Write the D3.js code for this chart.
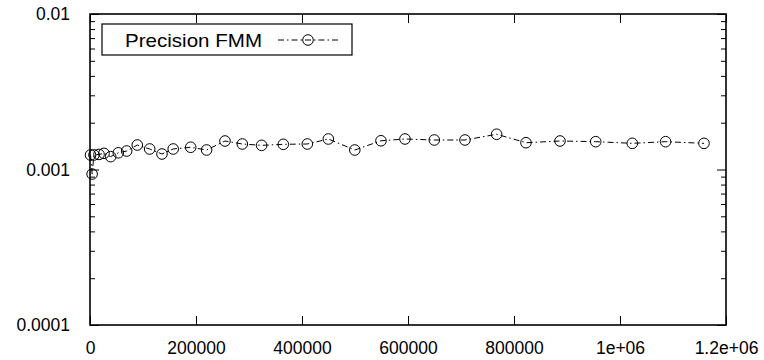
<!DOCTYPE html>
<html><head><meta charset="utf-8">
<script src="https://cdn.jsdelivr.net/npm/d3@7"></script>
<style>body{margin:0;background:#fff}svg{display:block}text{font-family:"Liberation Sans",Arial,sans-serif;fill:#000}</style>
</head><body><svg id="c" width="764" height="360"></svg>
<script>
const seriesName = "Precision FMM";
const xValues = [1000, 4000, 7500, 17000, 26400, 39000, 53400, 69200, 89200, 112600, 135800, 157000, 190000, 220000, 254700, 287400, 323800, 364700, 410000, 449700, 499600, 549000, 594300, 649600, 707500, 767200, 822600, 886800, 954200, 1023200, 1086000, 1158500];
const yValues = [1.24e-3, 0.935e-3, 1.24e-3, 1.25e-3, 1.27e-3, 1.21e-3, 1.28e-3, 1.315e-3, 1.437e-3, 1.355e-3, 1.258e-3, 1.355e-3, 1.39e-3, 1.335e-3, 1.525e-3, 1.459e-3, 1.43e-3, 1.452e-3, 1.459e-3, 1.571e-3, 1.335e-3, 1.53e-3, 1.571e-3, 1.548e-3, 1.548e-3, 1.685e-3, 1.487e-3, 1.525e-3, 1.51e-3, 1.473e-3, 1.51e-3, 1.473e-3];
const xTicks = [0, 200000, 400000, 600000, 800000, 1000000, 1200000];
const xTickLabels = ["0", "200000", "400000", "600000", "800000", "1e+06", "1.2e+06"];
const yTicks = [0.0001, 0.001, 0.01];
const yTickLabels = ["0.0001", "0.001", "0.01"];

const L = 90, R = 726, T = 14, B = 325;
const svg = d3.select("#c");
const x = d3.scaleLinear().domain([0, 1200000]).range([L, R]);
const y = d3.scaleLog().domain([0.0001, 0.01]).range([B, T]);

const minor = [];
for (let d = 0.0001; d < 0.01; d *= 10) for (let k = 2; k <= 9; k++) minor.push(d * k);

function style(g){ g.select(".domain").remove(); g.selectAll("line").attr("stroke","#000").attr("stroke-width",1); g.selectAll("text").style("font-size","17.5px").attr("fill","#000"); }

// left
svg.append("g").attr("transform",`translate(${L},0)`).call(d3.axisLeft(y).tickValues(yTicks).tickSize(-9).tickPadding(20).tickFormat((d,i)=>yTickLabels[i])).call(style);
svg.append("g").attr("transform",`translate(${L},0)`).call(d3.axisLeft(y).tickValues(minor).tickSize(-5).tickFormat("")).call(style);
// right
svg.append("g").attr("transform",`translate(${R},0)`).call(d3.axisRight(y).tickValues(yTicks).tickSize(-9).tickFormat("")).call(style);
svg.append("g").attr("transform",`translate(${R},0)`).call(d3.axisRight(y).tickValues(minor).tickSize(-5).tickFormat("")).call(style);
// bottom
svg.append("g").attr("transform",`translate(0,${B})`).call(d3.axisBottom(x).tickValues(xTicks).tickSize(-9).tickPadding(17).tickFormat((d,i)=>xTickLabels[i])).call(style);
// top
svg.append("g").attr("transform",`translate(0,${T})`).call(d3.axisTop(x).tickValues(xTicks).tickSize(-9).tickFormat("")).call(style);

svg.append("rect").attr("x",L).attr("y",T).attr("width",R-L).attr("height",B-T).attr("fill","none").attr("stroke","#000").attr("stroke-width",1.6);

const data = xValues.map((v,i)=>[v,yValues[i]]);
const dash = "6,3,1.5,3";
svg.append("path").datum(data).attr("d", d3.line().x(d=>x(d[0])).y(d=>y(d[1])))
  .attr("fill","none").attr("stroke","#000").attr("stroke-width",1).attr("stroke-dasharray",dash);
svg.append("g").selectAll("circle").data(data).join("circle")
  .attr("cx",d=>x(d[0])).attr("cy",d=>y(d[1])).attr("r",5.3)
  .attr("fill","none").attr("stroke","#000").attr("stroke-width",1);

// legend
const lg = svg.append("g");
lg.append("rect").attr("x",102).attr("y",24).attr("width",250).attr("height",31).attr("fill","#fff").attr("stroke","#000").attr("stroke-width",1.2);
lg.append("text").attr("x",125).attr("y",46.5).style("font-size","19px").attr("textLength",137).attr("lengthAdjust","spacingAndGlyphs").text(seriesName);
lg.append("line").attr("x1",278).attr("x2",338).attr("y1",40).attr("y2",40).attr("stroke","#000").attr("stroke-dasharray",dash);
lg.append("circle").attr("cx",308).attr("cy",40).attr("r",5.3).attr("fill","none").attr("stroke","#000");
</script></body></html>
